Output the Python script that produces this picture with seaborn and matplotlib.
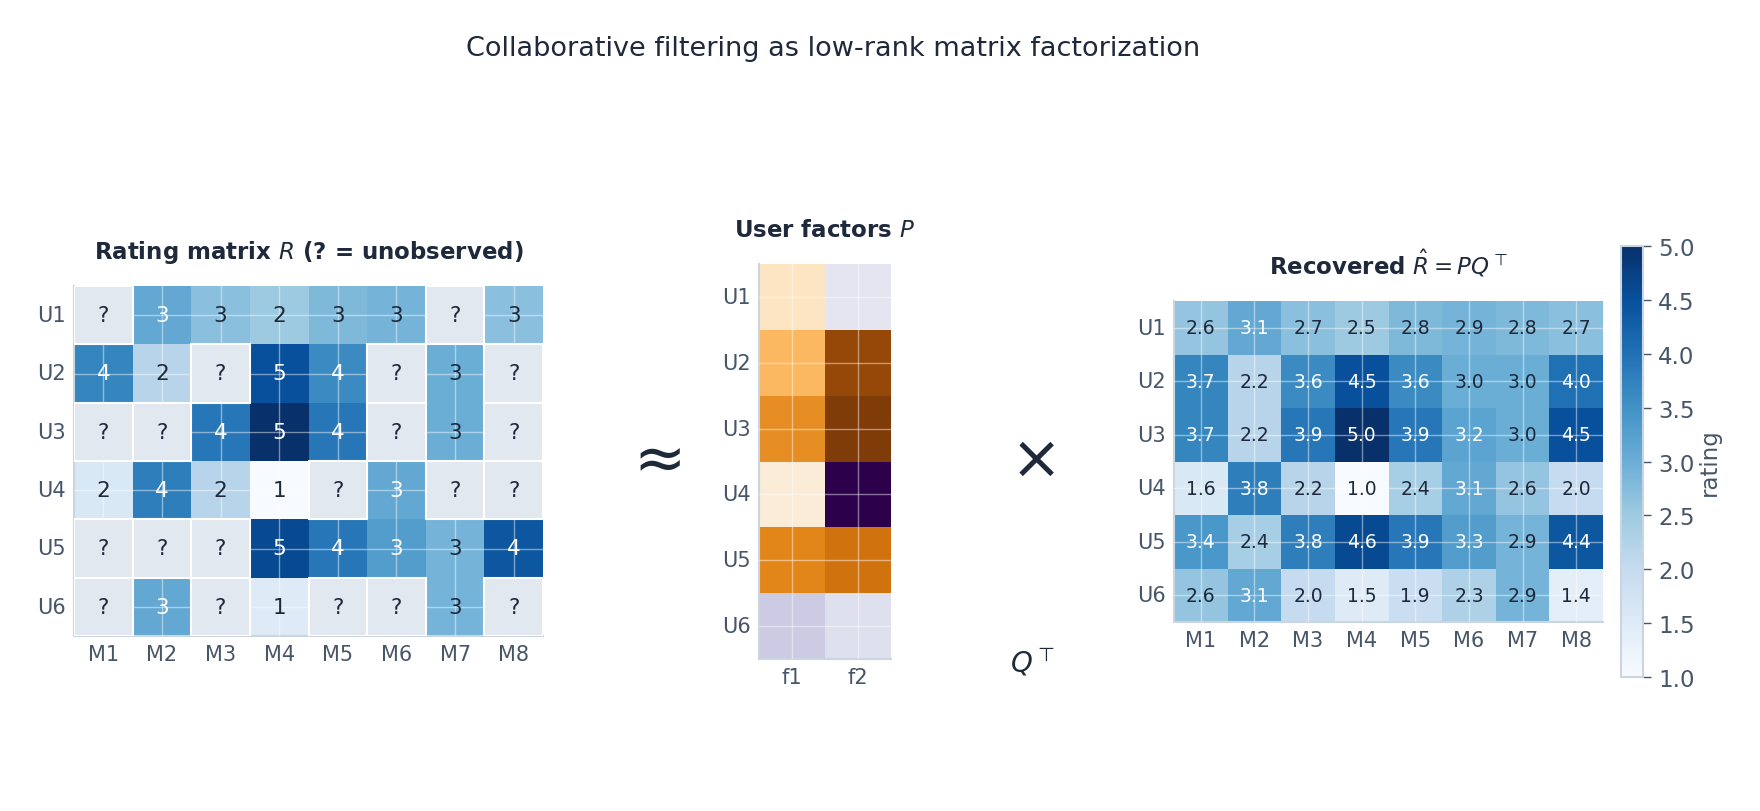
"""Collaborative filtering figure: R ~ P x Q^T, three heatmaps side by side."""
import matplotlib
matplotlib.use("Agg")
import matplotlib.pyplot as plt
from matplotlib.patches import Rectangle
import numpy as np
import seaborn as sns

USERS = ["U1", "U2", "U3", "U4", "U5", "U6"]
MOVIES = ["M1", "M2", "M3", "M4", "M5", "M6", "M7", "M8"]
FACTORS = ["f1", "f2"]

# observed ratings (nan = unobserved "?")
nan = np.nan
R_OBS = np.array([
    [nan, 3, 3, 2, 3, 3, nan, 3],
    [4, 2, nan, 5, 4, nan, 3, nan],
    [nan, nan, 4, 5, 4, nan, 3, nan],
    [2, 4, 2, 1, nan, 3, nan, nan],
    [nan, nan, nan, 5, 4, 3, 3, 4],
    [nan, 3, nan, 1, nan, nan, 3, nan],
])

# user factor matrix P (6 x 2)
P = np.array([
    [-0.38, 0.29],
    [-0.96, -2.18],
    [-1.34, -2.40],
    [-0.24, 2.40],
    [-1.39, -1.60],
    [0.62, 0.38],
])

# recovered matrix R_hat = P Q^T
R_HAT = np.array([
    [2.6, 3.1, 2.7, 2.5, 2.8, 2.9, 2.8, 2.7],
    [3.7, 2.2, 3.6, 4.5, 3.6, 3.0, 3.0, 4.0],
    [3.7, 2.2, 3.9, 5.0, 3.9, 3.2, 3.0, 4.5],
    [1.6, 3.8, 2.2, 1.0, 2.4, 3.1, 2.6, 2.0],
    [3.4, 2.4, 3.8, 4.6, 3.9, 3.3, 2.9, 4.4],
    [2.6, 3.1, 2.0, 1.5, 1.9, 2.3, 2.9, 1.4],
])

DARK = "#1e293b"
MUTED = "#475569"
EDGE = "#cbd5e1"
MISSING = "#e2e8f0"

sns.set_theme(style="white")
plt.rcParams["font.family"] = ["DejaVu Sans"]
plt.rcParams["text.color"] = DARK


def style_ax(ax):
    ax.tick_params(length=0, labelsize=15, colors=MUTED, pad=6)
    ax.set_yticklabels(ax.get_yticklabels(), rotation=0)
    ax.set_xticklabels(ax.get_xticklabels(), rotation=0)
    for side in ("left", "bottom"):
        ax.spines[side].set_visible(True)
        ax.spines[side].set_color(EDGE)
        ax.spines[side].set_linewidth(1.5)
    for side in ("top", "right"):
        ax.spines[side].set_visible(False)
    ax.set_axisbelow(False)
    ax.grid(True, color="white", alpha=0.45, linewidth=1.0)
    ax.set_xlabel("")
    ax.set_ylabel("")


fig = plt.figure(figsize=(17.6, 8.12), dpi=100)
W, H = 1760, 812


def px_axes(x0, y0, x1, y1):
    return fig.add_axes([x0 / W, 1 - y1 / H, (x1 - x0) / W, (y1 - y0) / H])


ax_r = px_axes(74, 287, 543, 637)
ax_p = px_axes(759, 265, 891, 660)
ax_h = px_axes(1174, 302, 1603, 623)
cax = px_axes(1621, 247, 1643, 678)

# ── left: observed ratings ──────────────────────────────────────────
missing = np.isnan(R_OBS)
sns.heatmap(R_HAT, mask=missing, cmap="Blues", vmin=1, vmax=5, cbar=False,
            xticklabels=MOVIES, yticklabels=USERS, ax=ax_r)
style_ax(ax_r)
for i in range(len(USERS)):
    for j in range(len(MOVIES)):
        if missing[i, j]:
            ax_r.add_patch(Rectangle((j, i), 1, 1, facecolor=MISSING,
                                     edgecolor="white", linewidth=1.5, zorder=3))
            ax_r.text(j + 0.5, i + 0.5, "?", ha="center", va="center",
                      fontsize=15.5, color=DARK, zorder=4)
        else:
            col = "white" if R_HAT[i, j] > 3.0 else DARK
            ax_r.text(j + 0.5, i + 0.5, f"{int(R_OBS[i, j])}", ha="center",
                      va="center", fontsize=15.5, color=col, zorder=4)
ax_r.set_title("Rating matrix $R$ (? = unobserved)", fontsize=16.5,
               fontweight="bold", color=DARK, pad=20)

# ── middle: user factors ────────────────────────────────────────────
sns.heatmap(P, cmap="PuOr", cbar=False, xticklabels=FACTORS,
            yticklabels=USERS, ax=ax_p)
style_ax(ax_p)
ax_p.set_title("User factors $P$", fontsize=16.5, fontweight="bold",
               color=DARK, pad=20)

# ── right: recovered matrix ─────────────────────────────────────────
sns.heatmap(R_HAT, cmap="Blues", vmin=1, vmax=5, annot=True, fmt=".1f",
            annot_kws={"fontsize": 13.5}, xticklabels=MOVIES, yticklabels=USERS,
            cbar_ax=cax, cbar_kws={"label": "rating"}, ax=ax_h)
style_ax(ax_h)
for t, v in zip(ax_h.texts, R_HAT.flat):
    t.set_color("white" if v > 3.0 else DARK)
    t.set_zorder(4)
ax_h.set_title(r"Recovered $\hat{R} = PQ^\top$", fontsize=16.5,
               fontweight="bold", color=DARK, pad=20)

cb = ax_h.collections[0].colorbar
cb.set_ticks(np.arange(1.0, 5.01, 0.5))
cb.ax.yaxis.set_major_formatter(matplotlib.ticker.FormatStrFormatter("%.1f"))
cb.ax.tick_params(labelsize=16.5, colors=MUTED, length=6, width=1, color=MUTED,
                  pad=5)
cb.outline.set_edgecolor(EDGE)
cb.outline.set_linewidth(1.5)
cb.set_label("rating", fontsize=16.5, color=MUTED, labelpad=2)

# operators
fig.text(660 / W, 1 - 461 / H, "≈", fontsize=45, ha="center", va="center",
         color=DARK)
fig.text(1036 / W, 1 - 461 / H, "×", fontsize=44, ha="center", va="center",
         color=DARK)
fig.text(1032 / W, 1 - 662 / H, r"$Q^\top$", fontsize=20, ha="center",
         va="center", color=DARK)

fig.suptitle("Collaborative filtering as low-rank matrix factorization",
             fontsize=19.5, color=DARK, x=833 / W, y=1 - 49 / H, va="center")

fig.savefig("out.png", dpi=100)
